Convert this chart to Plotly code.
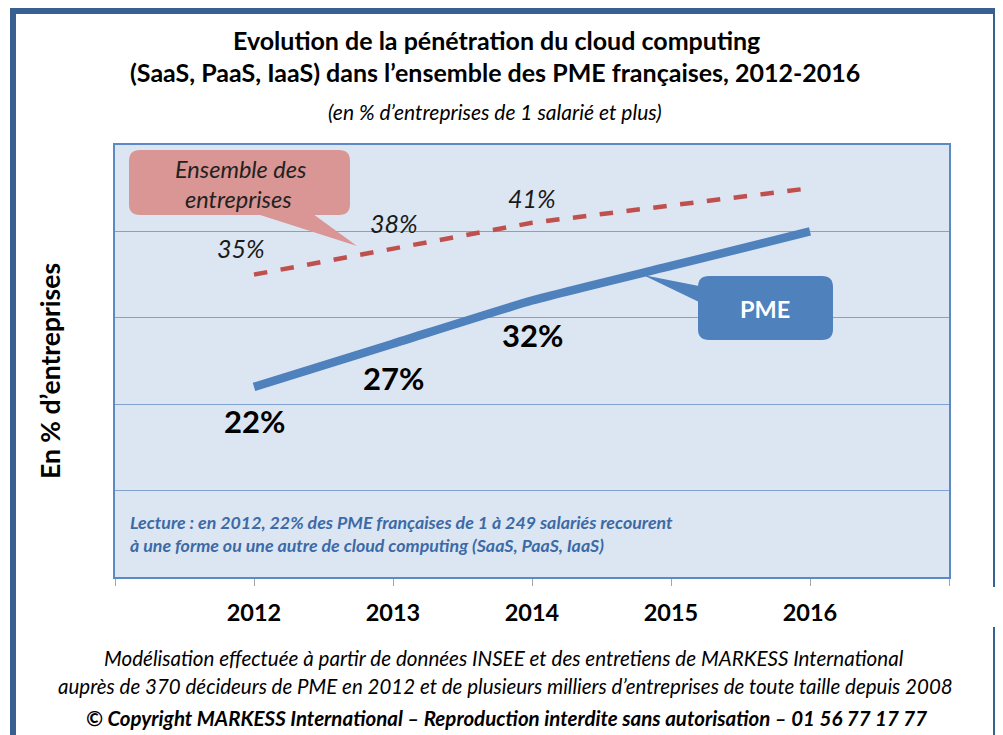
import plotly.graph_objects as go

# ---- data ----
years = [2012, 2013, 2014, 2015, 2016]
pme = [22, 27, 32, 36, 40]
ensemble = [35, 38, 41, 43, 45]
pme_labeled = 3      # number of labelled points
ens_labeled = 3
tick_vals = [2011, 2012, 2013, 2014, 2015, 2016, 2017]
tick_text = ["", "2012", "2013", "2014", "2015", "2016", ""]

OFF = 8                      # page body margin
W, H = 1003 - OFF, 735 - OFF
L, R, T, B = 115, 949, 145, 577   # plot area in page pixels
FONT = "Lato"
FRAME = "#386192"
BLUE = "#4F81BD"
RED = "#C0504D"


def px(x):
    return (x - L) / (R - L)


def py(y):
    return (B - y) / (B - T)


def rrect(x0, y0, x1, y1, r=10):
    a, b, c, d = px(x0), px(x1), py(y0), py(y1)
    rx, ry = r / (R - L), r / (B - T)
    return (f"M {a+rx} {c} L {b-rx} {c} Q {b} {c} {b} {c-ry} L {b} {d+ry} "
            f"Q {b} {d} {b-rx} {d} L {a+rx} {d} Q {a} {d} {a} {d+ry} "
            f"L {a} {c-ry} Q {a} {c} {a+rx} {c} Z")


def tri(pts):
    return "M " + " L ".join(f"{px(x)} {py(y)}" for x, y in pts) + " Z"


fig = go.Figure()
fig.add_trace(go.Scatter(x=years, y=ensemble, mode="lines",
                         line=dict(color=RED, width=4.5, dash="dash"),
                         hoverinfo="skip", showlegend=False))
fig.add_trace(go.Scatter(x=years, y=pme, mode="lines",
                         line=dict(color=BLUE, width=8.5, shape="spline", smoothing=0.5),
                         hoverinfo="skip", showlegend=False))

ann = []
ens_shift = [(-13, 27), (1, 26), (0, 25)]
for (x, v), (dx, dy) in zip(list(zip(years, ensemble))[:ens_labeled], ens_shift):
    ann.append(dict(x=x, y=v, xref="x", yref="y", text=f"{v}%", showarrow=False,
                    xshift=dx, yshift=dy,
                    font=dict(family=FONT, size=25, color="#1a1a1a", style="italic")))
for x, v in list(zip(years, pme))[:pme_labeled]:
    ann.append(dict(x=x, y=v, xref="x", yref="y", text=f"<b>{v}%</b>", showarrow=False,
                    yshift=-34, font=dict(family=FONT, size=31, color="#000")))


def txt(x, y, text, size, color="#000", style="normal", xanchor="center", **kw):
    ann.append(dict(x=px(x), y=py(y), xref="paper", yref="paper", text=text,
                    showarrow=False, xanchor=xanchor, yanchor="middle",
                    font=dict(family=FONT, size=size, color=color, style=style), **kw))


txt(496, 40, "<b>Evolution de la pénétration du cloud computing</b>", 25)
txt(495, 72, "<b>(SaaS, PaaS, IaaS) dans l’ensemble des PME françaises, 2012-2016</b>", 25)
txt(495, 111, "(en % d’entreprises de 1 salarié et plus)", 21, style="italic")
txt(50, 371, "<b>En % d’entreprises</b>", 26.5, textangle=-90)
txt(128, 522, "<b>Lecture : en 2012, 22% des PME françaises de 1 à 249 salariés recourent</b>",
    17.8, color="#3C6AA6", style="italic", xanchor="left")
txt(128, 545, "<b>à une forme ou une autre de cloud computing (SaaS, PaaS, IaaS)</b>",
    17.8, color="#3C6AA6", style="italic", xanchor="left")
txt(504, 658, "Modélisation effectuée à partir de données INSEE et des entretiens de MARKESS International",
    20.6, style="italic")
txt(505, 686, "auprès de 370 décideurs de PME en 2012 et de plusieurs milliers d’entreprises de toute taille depuis 2008",
    20.5, style="italic")
txt(506, 718, "<b>© Copyright MARKESS International – Reproduction interdite sans autorisation – 01 56 77 17 77</b>",
    20.5, style="italic")
txt(240, 169, "Ensemble des", 23.5, color="#222", style="italic")
txt(238, 199, "entreprises", 23.5, color="#222", style="italic")
txt(765, 309, "<b>PME</b>", 23.5, color="#fff")

shapes = []
shapes.append(dict(type="path", xref="paper", yref="paper", path=rrect(129, 150, 350, 215, 11),
                   fillcolor="#D99694", line=dict(width=0), layer="above"))
shapes.append(dict(type="path", xref="paper", yref="paper",
                   path=tri([(257, 214), (357, 246), (313, 214)]),
                   fillcolor="#D99694", line=dict(width=0), layer="above"))
shapes.append(dict(type="path", xref="paper", yref="paper", path=rrect(698, 276, 833, 340, 11),
                   fillcolor=BLUE, line=dict(width=0), layer="above"))
shapes.append(dict(type="path", xref="paper", yref="paper",
                   path=tri([(699, 286), (643, 275), (699, 302)]),
                   fillcolor=BLUE, line=dict(width=0), layer="above"))
for x0, y0, x1, y1, c in [(10, 8, 16, 740, FRAME), (10, 8, 999, 14, FRAME),
                          (993, 8, 999, 740, FRAME), (993, 587, 997, 627, "#ffffff")]:
    shapes.append(dict(type="rect", xref="paper", yref="paper",
                       x0=px(x0), x1=px(x1), y0=py(y1), y1=py(y0),
                       fillcolor=c, line=dict(width=0), layer="above"))

fig.update_layout(
    width=W, height=H,
    margin=dict(l=L - OFF, r=W - (R - OFF), t=T - OFF, b=H - (B - OFF)),
    paper_bgcolor="#ffffff", plot_bgcolor="#DCE6F2",
    annotations=ann, shapes=shapes,
    xaxis=dict(range=[2011, 2017], tickvals=tick_vals, ticktext=tick_text,
               showgrid=False, zeroline=False, showline=True, mirror=True,
               linecolor="#5B8AC6", linewidth=2, ticks="outside", ticklen=7,
               tickcolor="#A6A6A6", tickwidth=1, ticklabelstandoff=7,
               tickfont=dict(family=FONT, size=23.5, color="#000", weight="bold")),
    yaxis=dict(range=[0, 50], dtick=10, showticklabels=False, showgrid=True,
               gridcolor="#7FA2D0", gridwidth=1, zeroline=False, showline=True,
               mirror=True, linecolor="#5B8AC6", linewidth=2, ticks=""),
)

fig.write_html("out.html")
